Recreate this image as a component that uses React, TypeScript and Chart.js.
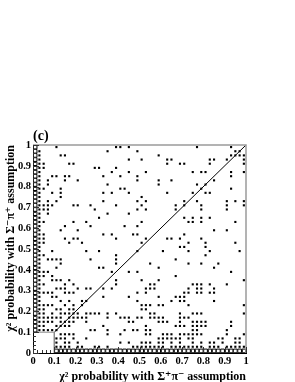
import React, { useEffect, useRef } from 'react';
import { Chart, registerables } from 'chart.js';

Chart.register(...registerables);

// ---- data (bin indices; bin width 0.02) ----
const BIN = 0.02;
const xTickLabels = ['0', '0.1', '0.2', '0.3', '0.4', '0.5', '0.6', '0.7', '0.8', '0.9', '1'];
const yTickLabels = ['0', '0.1', '0.2', '0.3', '0.4', '0.5', '0.6', '0.7', '0.8', '0.9', '1'];
const xTitle = 'χ² probability with Σ⁺π⁻ assumption';
const yTitle = 'χ² probability with Σ⁻π⁺ assumption';
const panelLabel = '(c)';

// heavily filled bins drawn as open boxes
const leftColumnBinsY = [5, 6, 7, 8, 9, 10, 11, 12, 13, 14, 15, 16, 17, 18, 19, 20, 21, 22, 23, 24, 25, 26, 27, 28, 29, 30, 31, 32, 33, 34, 35, 36, 37, 38, 39, 40, 41, 42, 43, 44, 45, 46, 47, 48, 49];
const bottomRowBinsX = [5, 6, 7, 8, 9, 10, 11, 12, 13, 14, 15, 16, 17, 18, 19, 20, 21, 22, 23, 24, 25, 26, 27, 28, 29, 30, 31, 32, 33, 34, 35, 36, 37, 38, 39, 40, 41, 42, 43, 44, 45, 46, 47, 48, 49];

// single-entry bins: index = y bin, values = x bins
const dotRows: number[][] = [
  [],
  [5, 6, 7, 8, 10, 11, 14, 15, 17, 23, 24, 25, 26, 27, 28, 29, 30, 32, 33, 34, 35, 36, 37, 38, 39, 41, 42, 43, 45, 46, 47, 48, 49],
  [5, 7, 8, 10, 20, 22, 25, 26, 27, 29, 30, 32, 34, 37, 39, 41, 42, 44, 47, 48],
  [5, 6, 7, 9, 12, 29, 30, 31, 32, 33, 34, 36, 37, 43, 44, 47, 48],
  [6, 7, 8, 9, 17, 20, 26, 27, 30, 31, 32, 34, 35, 36, 37, 38, 39, 45, 49],
  [1, 2, 3, 4, 5, 13, 14, 17, 21, 23, 24, 26, 27, 37, 38, 45],
  [1, 2, 5, 6, 7, 8, 16, 26, 33, 34, 35, 37, 38, 39, 40, 46],
  [1, 2, 3, 4, 6, 7, 8, 9, 12, 22, 23, 29, 30, 31, 34, 37, 38, 39, 40, 46],
  [1, 2, 3, 4, 5, 6, 8, 9, 10, 11, 12, 17, 20, 21, 22, 24, 25, 27, 28, 29, 30, 34, 35, 36],
  [1, 2, 4, 6, 7, 8, 9, 10, 12, 13, 14, 15, 17, 19, 27, 28, 34, 37, 38, 39, 49],
  [1, 2, 5, 6, 8, 9, 25, 26],
  [1, 2, 3, 4, 7, 9, 11, 25, 26, 27, 29, 30, 36, 49],
  [1, 6, 8, 11, 12, 24, 32, 34, 35, 42],
  [1, 4, 5, 16, 22, 29, 33, 34, 35],
  [1, 2, 3, 4, 7, 8, 9, 24, 26, 35, 36, 38, 39, 41, 42],
  [1, 5, 6, 7, 10, 12, 13, 16, 18, 26, 27, 28, 36, 38, 39, 42],
  [1, 2, 7, 9, 19, 27, 28, 37, 38, 39, 41, 45],
  [1, 4, 5, 6, 8, 19, 25, 29, 49],
  [1, 2, 4, 33],
  [1, 2, 3, 18, 22, 24, 46],
  [1, 5, 15, 16, 29, 42],
  [1, 6, 19, 27, 36, 39, 43],
  [1, 3, 4, 5, 6, 13, 19, 33],
  [1, 2, 19, 40],
  [1, 4, 12, 15, 24, 30, 36, 41, 48],
  [1, 34, 35, 40],
  [1, 2, 8, 11, 25, 36, 40, 47],
  [1, 2, 7, 9, 10, 19, 26, 31, 32, 34, 39],
  [1, 2, 16, 18, 23, 24, 35],
  [1, 6, 10, 42, 45],
  [1, 7, 13, 21, 24],
  [1, 2, 9, 12, 25, 36, 37, 39, 47],
  [1, 15, 35, 37, 39, 41],
  [1, 3, 17, 22],
  [1, 2, 3, 14, 24, 26, 33, 39, 45],
  [1, 2, 3, 4, 9, 10, 13, 19, 25, 33, 35, 39, 45, 49],
  [1, 3, 5, 16, 24, 26, 35, 38, 45, 47, 49],
  [1, 6, 25],
  [1, 4, 6, 16, 18, 22, 31, 37, 40, 41],
  [1, 2, 6, 20, 21, 39, 46],
  [1, 3, 17, 29, 38, 40],
  [1, 3, 7, 10, 24, 29, 32, 42],
  [1, 4, 5, 7, 8, 16, 20, 24, 46],
  [1, 18, 22, 26, 37, 39, 40, 46, 49],
  [1, 2, 14, 15, 19],
  [1, 2, 8, 9, 31, 34, 35, 41, 49],
  [1, 22, 25, 31, 32, 41, 42, 45, 49],
  [1, 6, 7, 29, 46, 47, 48, 49],
  [1, 17, 24, 47, 48],
  [5, 19, 20, 22, 38, 46],
];

const cutBox = [
  { x: 0, y: 0.1 },
  { x: 0.1, y: 0.1 },
  { x: 0.1, y: 0 },
];
const diagonal = [
  { x: 0.1, y: 0.1 },
  { x: 1, y: 1 },
];

const SERIF = '"Liberation Serif", "DejaVu Serif", "Times New Roman", serif';

const center = (i: number) => (i + 0.5) * BIN;

export default function App() {
  const ref = useRef<HTMLCanvasElement | null>(null);

  useEffect(() => {
    if (!ref.current) return;

    const dots: { x: number; y: number }[] = [];
    dotRows.forEach((row, yi) => row.forEach((xi) => dots.push({ x: center(xi), y: center(yi) })));
    const boxes: { x: number; y: number }[] = [
      ...leftColumnBinsY.map((yi) => ({ x: center(0), y: center(yi) })),
      ...bottomRowBinsX.map((xi) => ({ x: center(xi), y: center(0) })),
    ];

    const decor = {
      id: 'decor',
      afterDatasetsDraw(chart: any) {
        const { ctx, chartArea: a, scales } = chart;
        const xs = scales.x;
        const ys = scales.y;
        ctx.save();
        // top / right frame
        ctx.strokeStyle = '#9a9a9a';
        ctx.lineWidth = 1.5;
        ctx.beginPath();
        ctx.moveTo(a.left, a.top);
        ctx.lineTo(a.right, a.top);
        ctx.lineTo(a.right, a.bottom);
        ctx.stroke();
        // inner ticks
        ctx.strokeStyle = '#333';
        ctx.lineWidth = 1;
        ctx.beginPath();
        for (let k = 0; k <= 50; k++) {
          const v = k * BIN;
          const len = k % 5 === 0 ? 6 : 3;
          const px = Math.round(xs.getPixelForValue(v)) + 0.5;
          ctx.moveTo(px, a.bottom);
          ctx.lineTo(px, a.bottom - len);
          const py = Math.round(ys.getPixelForValue(v)) + 0.5;
          ctx.moveTo(a.left, py);
          ctx.lineTo(a.left + len, py);
        }
        ctx.stroke();
        // panel label
        ctx.fillStyle = '#000';
        ctx.font = `bold 14px ${SERIF}`;
        ctx.textBaseline = 'middle';
        ctx.textAlign = 'left';
        ctx.fillText(panelLabel, 33, 136);
        ctx.restore();
      },
    };

    const tickFont = { family: SERIF, size: 10.5, weight: 'bold' as const };
    const titleFont = { family: SERIF, size: 12, weight: 'bold' as const, lineHeight: 1 };

    const chart = new Chart(ref.current, {
      type: 'scatter',
      data: {
        datasets: [
          {
            label: 'boxes',
            data: boxes,
            pointStyle: 'rect',
            pointRadius: 2.6,
            backgroundColor: '#ffffff',
            borderColor: '#000000',
            borderWidth: 1,
          },
          {
            label: 'dots',
            data: dots,
            pointStyle: 'rect',
            pointRadius: 1.5,
            backgroundColor: '#000000',
            borderWidth: 0,
          },
          {
            label: 'cut',
            data: cutBox,
            showLine: true,
            pointRadius: 0,
            borderColor: '#8a8a8a',
            borderWidth: 1,
            fill: false,
          } as any,
          {
            label: 'diagonal',
            data: diagonal,
            showLine: true,
            pointRadius: 0,
            borderColor: '#000000',
            borderWidth: 1,
            fill: false,
          } as any,
        ],
      },
      options: {
        animation: false,
        responsive: false,
        maintainAspectRatio: false,
        events: [],
        layout: { padding: { top: 145, right: 49, left: 0, bottom: 0 } },
        plugins: { legend: { display: false }, tooltip: { enabled: false }, title: { display: false } },
        scales: {
          x: {
            type: 'linear',
            min: 0,
            max: 1,
            afterFit: (s: any) => {
              s.height = 29;
            },
            grid: { display: false, drawTicks: false },
            border: { display: true, color: '#000', width: 1 },
            ticks: {
              stepSize: 0.1,
              autoSkip: false,
              maxRotation: 0,
              padding: 2,
              color: '#000',
              font: tickFont,
              callback: (_v: any, i: number) => xTickLabels[i],
            },
            title: {
              display: true,
              text: xTitle,
              align: 'end',
              color: '#000',
              font: titleFont,
              padding: { top: 0, bottom: -1 },
            },
          },
          y: {
            type: 'linear',
            min: 0,
            max: 1,
            afterFit: (s: any) => {
              s.width = 33;
            },
            grid: { display: false, drawTicks: false },
            border: { display: true, color: '#000', width: 1 },
            ticks: {
              stepSize: 0.1,
              autoSkip: false,
              padding: 2,
              color: '#000',
              font: tickFont,
              callback: (_v: any, i: number) => yTickLabels[i],
            },
            title: {
              display: true,
              text: yTitle,
              align: 'end',
              color: '#000',
              font: titleFont,
              padding: { top: 5, bottom: 0 },
            },
          },
        },
      } as any,
      plugins: [decor],
    });

    return () => chart.destroy();
  }, []);

  return (
    <div style={{ position: 'fixed', left: 0, top: 0, width: 295, height: 382, background: '#fff' }}>
      <canvas ref={ref} width={295} height={382} style={{ display: 'block', width: 295, height: 382 }} />
    </div>
  );
}
